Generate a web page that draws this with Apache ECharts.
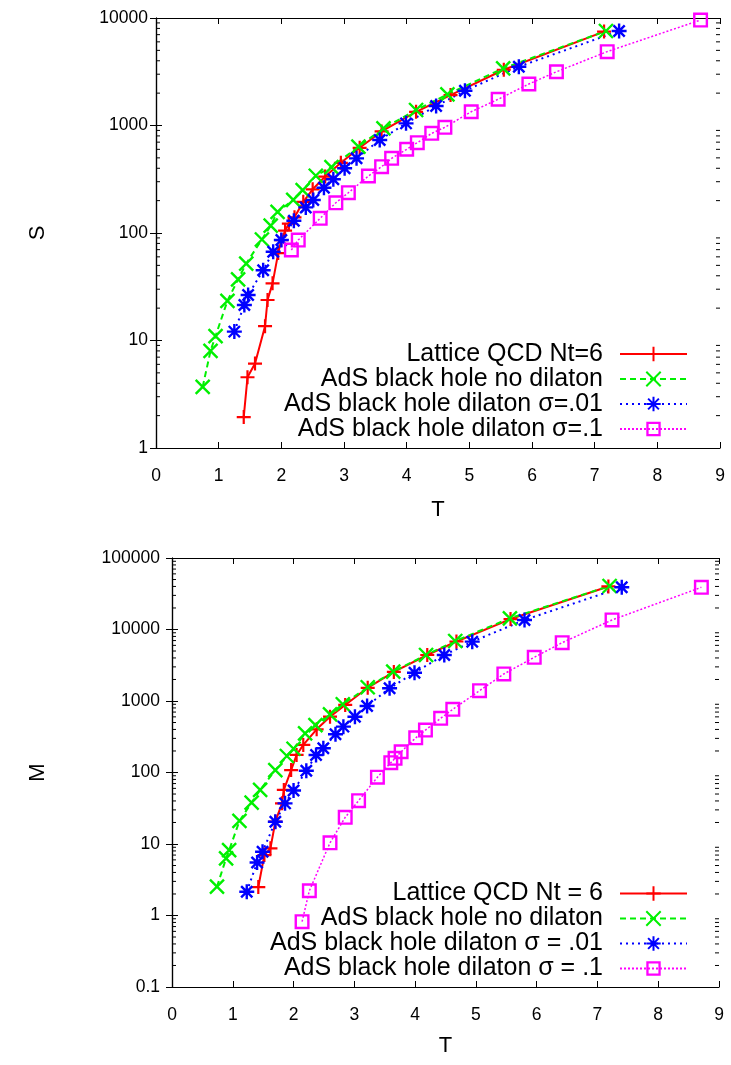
<!DOCTYPE html>
<html>
<head>
<meta charset="utf-8">
<script src="https://cdn.jsdelivr.net/npm/echarts@6/dist/echarts.min.js"></script>
<style>
html,body{margin:0;padding:0;background:#fff;}
#chart{width:731px;height:1065px;}
</style>
</head>
<body>
<div id="chart"></div>
<script>
// ---------- data (top panel: entropy S vs T) ----------
const topNames = ['Lattice QCD Nt=6', 'AdS black hole no dilaton', 'AdS black hole dilaton σ=.01', 'AdS black hole dilaton σ=.1'];
const topLatticeT = [1.40,1.46,1.58,1.74,1.78,1.86,1.95,2.00,2.06,2.12,2.21,2.35,2.50,2.70,2.95,3.25,3.60,4.15,4.70,5.55,7.15];
const topLatticeS = [1.94,4.55,6.1,13.6,23.8,34,65,86,105,122,140,195,255,335,450,620,880,1340,1920,3300,7470];
const topNoDilT = [0.745,0.87,0.95,1.14,1.31,1.44,1.69,1.83,1.94,2.19,2.34,2.55,2.80,3.23,3.63,4.15,4.65,5.54,7.18];
const topNoDilS = [3.7,8.0,11.0,23.4,37,52,87,117,157,203,251,341,410,635,942,1393,1950,3404,7570];
const topDil01T = [1.25,1.41,1.47,1.71,1.87,2.00,2.20,2.39,2.51,2.68,2.83,3.01,3.20,3.57,3.99,4.47,4.93,5.79,7.39];
const topDil01S = [12.1,21.4,26.5,45,67,86,130,173,203,264,316,400,495,733,1047,1517,2108,3525,7570];
const topDil1T = [2.16,2.27,2.62,2.87,3.07,3.39,3.60,3.76,4.00,4.17,4.40,4.61,5.03,5.46,5.95,6.39,7.20,8.69];
const topDil1S = [69.5,86,137,191,237,339,414,495,601,692,845,962,1343,1754,2432,3162,4865,9575];

// ---------- data (bottom panel: M vs T) ----------
const botNames = ['Lattice QCD Nt = 6', 'AdS black hole no dilaton', 'AdS black hole dilaton σ = .01', 'AdS black hole dilaton σ = .1'];
const botLatticeT = [1.42,1.52,1.62,1.70,1.81,1.84,1.96,2.05,2.16,2.38,2.60,2.85,3.22,3.65,4.20,4.68,5.57,7.18];
const botLatticeM = [2.5,7,8.7,20.5,37,57,108,176,243,402,603,880,1530,2550,4400,6800,14000,40000];
const botNoDilT = [0.74,0.89,0.94,1.11,1.31,1.45,1.70,1.89,2.00,2.19,2.36,2.60,2.81,3.22,3.64,4.18,4.66,5.56,7.20];
const botNoDilM = [2.53,6.3,8.2,21,38,57,108,170,215,353,461,652,900,1557,2570,4400,6900,14350,40600];
const botDil01T = [1.23,1.40,1.49,1.70,1.86,2.00,2.21,2.37,2.49,2.69,2.82,3.01,3.21,3.58,3.99,4.48,4.94,5.80,7.40];
const botDil01M = [2.15,5.5,7.8,20.5,37,56,106,176,218,342,438,603,851,1507,2489,4397,6760,13600,38900];
const botDil1T = [2.14,2.26,2.60,2.85,3.07,3.38,3.60,3.67,3.77,4.01,4.17,4.42,4.62,5.06,5.46,5.96,6.42,7.24,8.71];
const botDil1M = [0.82,2.22,10.4,23.6,40.4,86,137,158,195,305,392,573,765,1393,2388,4085,6546,13600,38900];

// axis ranges / tick values
const topYMin = 1, topYMax = 10000;
const botYMin = 0.1, botYMax = 100000;
const xMin = 0, xMax = 9, xStep = 1;

function minorTicks(lo, hi) {
  const out = [];
  for (let d = lo; d < hi * 0.999; d *= 10) {
    for (let m = 2; m <= 9; m++) out.push([0, +(m * d).toPrecision(6)]);
  }
  return out;
}
function zip(a, b) { return a.map((v, i) => [v, b[i]]); }

const FONT = '"Liberation Sans", Arial, Helvetica, sans-serif';
const RED = '#ff0000', GREEN = '#00f000', BLUE = '#0000ff', MAG = '#ff00ff';

const PLUS = 'path://M0,-1 L0,1 M-1,0 L1,0';
const CROSS = 'path://M-1,-1 L1,1 M-1,1 L1,-1';
const STAR = 'path://M0,-1 L0,1 M-1,0 L1,0 M-0.75,-0.75 L0.75,0.75 M-0.75,0.75 L0.75,-0.75';
const BOX = 'path://M0,0 L15,0 L15,15 L0,15 Z M2.4,2.4 L2.4,12.6 L12.6,12.6 L12.6,2.4 Z';

function styles() {
  return [
    { symbol: PLUS, symbolSize: 14, itemStyle: { color: RED, borderColor: RED, borderWidth: 2.2 }, lineStyle: { color: RED, width: 2, type: 'solid' } },
    { symbol: CROSS, symbolSize: 14, itemStyle: { color: GREEN, borderColor: GREEN, borderWidth: 2.4 }, lineStyle: { color: GREEN, width: 2, type: [6, 4] } },
    { symbol: STAR, symbolSize: 15, itemStyle: { color: BLUE, borderColor: BLUE, borderWidth: 2.4 }, lineStyle: { color: BLUE, width: 2, type: [2, 4] } },
    { symbol: BOX, symbolSize: 15, itemStyle: { color: MAG, borderWidth: 0 }, lineStyle: { color: MAG, width: 1.5, type: [2, 2] } }
  ];
}

function lineSeries(names, datasets, axisIdx) {
  const st = styles();
  return datasets.map((d, i) => Object.assign({
    type: 'line', name: names[i], data: d,
    xAxisIndex: axisIdx, yAxisIndex: axisIdx,
    showAllSymbol: true, smooth: false, animation: false, silent: true,
    emphasis: { disabled: true }
  }, st[i]));
}

function minorSeries(lo, hi, axisIdx) {
  return {
    type: 'custom', xAxisIndex: axisIdx, yAxisIndex: axisIdx, silent: true, animation: false,
    data: minorTicks(lo, hi), encode: { x: 0, y: 1 },
    renderItem: function (params, api) {
      const cs = params.coordSys;
      const y = api.coord([0, api.value(1)])[1];
      return { type: 'group', children: [
        { type: 'line', shape: { x1: cs.x, y1: y, x2: cs.x + 4, y2: y }, style: { stroke: '#000', lineWidth: 1 } },
        { type: 'line', shape: { x1: cs.x + cs.width - 4, y1: y, x2: cs.x + cs.width, y2: y }, style: { stroke: '#000', lineWidth: 1 } }
      ] };
    }
  };
}

const axLine = { show: true, lineStyle: { color: '#000', width: 1.2 } };
const axTick = { show: true, inside: true, length: 6, lineStyle: { color: '#000', width: 1 } };
const labelStyle = { color: '#000', fontSize: 17.5, fontFamily: FONT };

function xAxes(grid, gap) {
  return [
    { gridIndex: grid, type: 'value', min: xMin, max: xMax, interval: xStep, position: 'bottom',
      name: 'T', nameLocation: 'middle', nameGap: gap,
      nameTextStyle: { color: '#000', fontSize: 22, fontFamily: FONT },
      axisLine: axLine, axisTick: axTick, splitLine: { show: false },
      axisLabel: Object.assign({ margin: 19 }, labelStyle) },
    { gridIndex: grid, type: 'value', min: xMin, max: xMax, interval: xStep, position: 'top',
      axisLine: axLine, axisTick: axTick, splitLine: { show: false }, axisLabel: { show: false } }
  ];
}
function yAxes(grid, lo, hi, name, gap, split, margin) {
  return [
    { gridIndex: grid, type: 'log', logBase: 10, min: lo, max: hi, splitNumber: split, position: 'left',
      name: name, nameLocation: 'middle', nameGap: gap, nameRotate: 90,
      nameTextStyle: { color: '#000', fontSize: 22, fontFamily: FONT },
      axisLine: axLine, axisTick: axTick, splitLine: { show: false },
      axisLabel: Object.assign({ margin: margin, formatter: v => String(+(+v).toPrecision(6)) }, labelStyle) },
    { gridIndex: grid, type: 'log', logBase: 10, min: lo, max: hi, splitNumber: split, position: 'right',
      axisLine: axLine, axisTick: axTick, splitLine: { show: false }, axisLabel: { show: false } }
  ];
}

function legend(names, top) {
  return {
    data: names, orient: 'vertical', align: 'right', right: 43, top: top,
    itemWidth: 67, itemHeight: 18, itemGap: 0, padding: 0, selectedMode: false,
    textStyle: { color: '#000', fontSize: 25, fontFamily: FONT, lineHeight: 25, padding: [0, 12, 0, 0] }
  };
}

const chart = echarts.init(document.getElementById('chart'), null, { renderer: 'canvas' });
const option = {
  backgroundColor: '#fff',
  animation: false,
  textStyle: { fontFamily: FONT },
  grid: [
    { left: 156, top: 18, width: 564, height: 430, outerBoundsMode: 'none', containLabel: false },
    { left: 172, top: 558, width: 547, height: 429, outerBoundsMode: 'none', containLabel: false }
  ],
  legend: [legend(topNames, 341.5), legend(botNames, 881)],
  xAxis: [].concat(xAxes(0, 51), xAxes(1, 48)),
  yAxis: [].concat(yAxes(0, topYMin, topYMax, 'S', 107, 4, 8), yAxes(1, botYMin, botYMax, 'M', 123, 6, 12)),
  series: [].concat(
    [minorSeries(topYMin, topYMax, 0), minorSeries(botYMin, botYMax, 2)],
    lineSeries(topNames, [zip(topLatticeT, topLatticeS), zip(topNoDilT, topNoDilS), zip(topDil01T, topDil01S), zip(topDil1T, topDil1S)], 0),
    lineSeries(botNames, [zip(botLatticeT, botLatticeM), zip(botNoDilT, botNoDilM), zip(botDil01T, botDil01M), zip(botDil1T, botDil1M)], 2)
  )
};
chart.setOption(option);
</script>
</body>
</html>
